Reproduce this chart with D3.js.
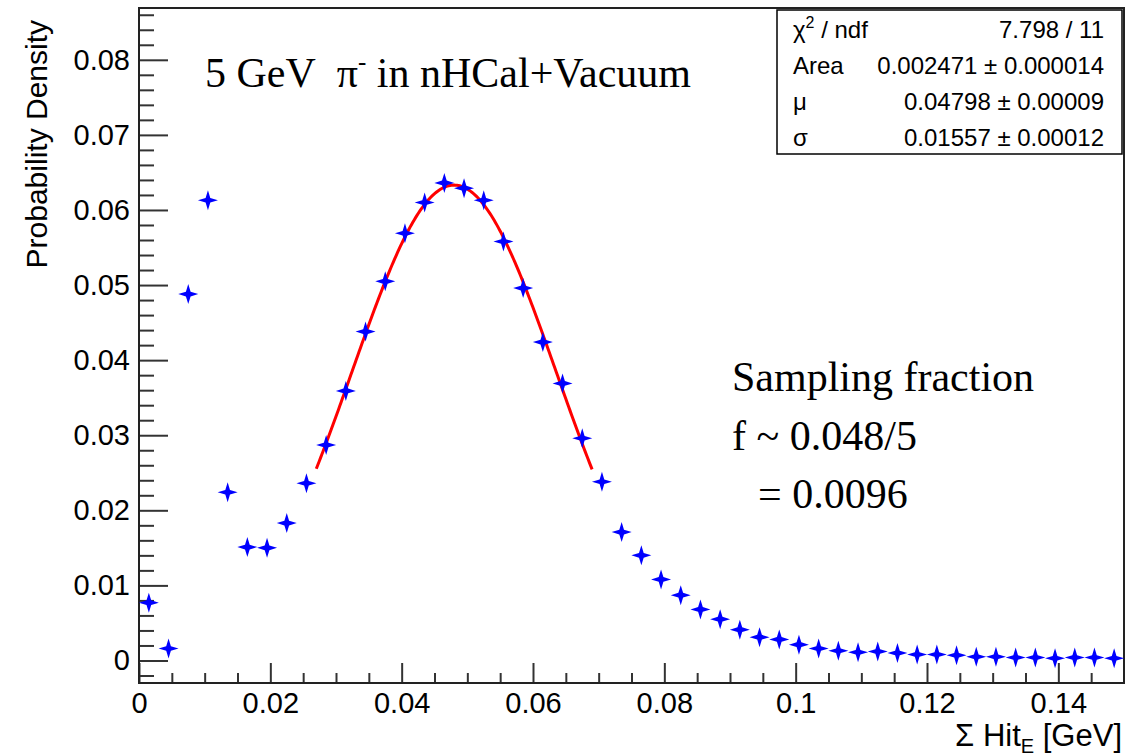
<!DOCTYPE html>
<html>
<head>
<meta charset="utf-8">
<script src="https://cdn.jsdelivr.net/npm/d3@7"></script>
<style>
  body { margin: 0; background: #fff; }
  svg { display: block; }
</style>
</head>
<body>
<div id="chart"></div>
<script>
const width = 1140;
const height = 756;

// histogram: bin centers [GeV] and probability density
const binCenters = [
  0.0015, 0.0045, 0.0075, 0.0105, 0.0135, 0.0165, 0.0195, 0.0225, 0.0255, 0.0285,
  0.0315, 0.0345, 0.0375, 0.0405, 0.0435, 0.0465, 0.0495, 0.0525, 0.0555, 0.0585,
  0.0615, 0.0645, 0.0675, 0.0705, 0.0735, 0.0765, 0.0795, 0.0825, 0.0855, 0.0885,
  0.0915, 0.0945, 0.0975, 0.1005, 0.1035, 0.1065, 0.1095, 0.1125, 0.1155, 0.1185,
  0.1215, 0.1245, 0.1275, 0.1305, 0.1335, 0.1365, 0.1395, 0.1425, 0.1455, 0.1485
];
const density = [
  0.0077, 0.0016, 0.0488, 0.0613, 0.0224, 0.0151, 0.0150, 0.0183, 0.0236, 0.0287,
  0.0359, 0.0438, 0.0505, 0.0569, 0.0610, 0.0636, 0.0629, 0.0613, 0.0558, 0.0496,
  0.0424, 0.0369, 0.0296, 0.0238, 0.0171, 0.0140, 0.0108, 0.0087, 0.0068, 0.0055,
  0.0041, 0.0031, 0.0028, 0.0021, 0.0016, 0.0013, 0.0011, 0.0012, 0.0010, 0.0008,
  0.0008, 0.0007, 0.0005, 0.0005, 0.0004, 0.0004, 0.0003, 0.0004, 0.0004, 0.0003
];

// gausn fit result
const fitArea = 0.002471;
const fitMean = 0.04798;
const fitSigma = 0.01557;
const fitRange = [0.027, 0.069];

const statLabels = ["χ2 / ndf", "Area", "μ", "σ"];
const statValues = ["7.798 / 11", "0.002471 ± 0.000014", "0.04798 ± 0.00009", "0.01557 ± 0.00012"];

const xMajor = [0, 0.02, 0.04, 0.06, 0.08, 0.1, 0.12, 0.14];
const yMajor = [0, 0.01, 0.02, 0.03, 0.04, 0.05, 0.06, 0.07, 0.08];
const xLabels = ["0", "0.02", "0.04", "0.06", "0.08", "0.1", "0.12", "0.14"];
const yLabels = ["0", "0.01", "0.02", "0.03", "0.04", "0.05", "0.06", "0.07", "0.08"];

const frame = { left: 139, right: 1124, top: 8, bottom: 683 };

const svg = d3.select("#chart")
  .append("svg")
  .attr("width", width)
  .attr("height", height);

const x = d3.scaleLinear()
  .domain([0, 0.15])
  .range([frame.left, frame.right]);

const y = d3.scaleLinear()
  .domain([-0.003, 0.0869])
  .range([frame.bottom, frame.top]);

const sans = "'Liberation Sans', Arial, sans-serif";
const serif = "'Liberation Serif', 'Times New Roman', serif";

// minor ticks
const xMinor = d3.range(0.005, 0.1451, 0.005).filter(v => Math.abs(v / 0.02 - Math.round(v / 0.02)) > 1e-6);
const yMinor = d3.range(-0.002, 0.0861, 0.002).filter(v => Math.abs(v / 0.01 - Math.round(v / 0.01)) > 1e-6);

svg.append("g")
  .attr("transform", `translate(0,${frame.bottom})`)
  .call(d3.axisBottom(x).tickValues(xMinor).tickSize(-10).tickFormat(""))
  .call(g => g.select(".domain").remove());

svg.append("g")
  .attr("transform", `translate(${frame.left},0)`)
  .call(d3.axisLeft(y).tickValues(yMinor).tickSize(-15).tickFormat(""))
  .call(g => g.select(".domain").remove());

// major ticks + labels
svg.append("g")
  .attr("transform", `translate(0,${frame.bottom})`)
  .call(d3.axisBottom(x).tickValues(xMajor).tickSize(-20).tickPadding(8)
    .tickFormat((d, i) => xLabels[i]))
  .call(g => g.select(".domain").remove())
  .call(g => g.selectAll("text").attr("dy", "0.75em"));

svg.append("g")
  .attr("transform", `translate(${frame.left},0)`)
  .call(d3.axisLeft(y).tickValues(yMajor).tickSize(-29).tickPadding(9)
    .tickFormat((d, i) => yLabels[i]))
  .call(g => g.select(".domain").remove());

svg.selectAll(".tick line")
  .attr("stroke", "#333")
  .attr("stroke-width", 2);

svg.selectAll(".tick text")
  .attr("fill", "#000")
  .style("font-family", sans)
  .style("font-size", "29px");

// frame
svg.append("rect")
  .attr("x", frame.left)
  .attr("y", frame.top)
  .attr("width", frame.right - frame.left)
  .attr("height", frame.bottom - frame.top)
  .attr("fill", "none")
  .attr("stroke", "#222")
  .attr("stroke-width", 2);

// fit curve
const fitX = d3.range(fitRange[0], fitRange[1] + 1e-9, (fitRange[1] - fitRange[0]) / 200);
const gaus = v => fitArea / (fitSigma * Math.sqrt(2 * Math.PI)) *
  Math.exp(-0.5 * Math.pow((v - fitMean) / fitSigma, 2));

svg.append("path")
  .datum(fitX)
  .attr("fill", "none")
  .attr("stroke", "#ff0000")
  .attr("stroke-width", 3)
  .attr("d", d3.line().x(d => x(d)).y(d => y(gaus(d))));

// four-point star markers
const star = d3.lineRadial()
  .angle((d, i) => i * Math.PI / 4)
  .radius((d, i) => i % 2 === 0 ? 10 : 3.3)
  .curve(d3.curveLinearClosed)(d3.range(8));

svg.append("g")
  .selectAll("path")
  .data(binCenters.map((c, i) => ({ c, v: density[i] })))
  .enter()
  .append("path")
  .attr("d", star)
  .attr("transform", d => `translate(${x(d.c)},${y(d.v)})`)
  .attr("fill", "#0000ff");

// axis titles
svg.append("text")
  .attr("transform", `translate(47,${frame.top + 12}) rotate(-90)`)
  .attr("text-anchor", "end")
  .style("font-family", sans)
  .style("font-size", "30px")
  .text("Probability Density");

const xTitle = svg.append("text")
  .attr("x", frame.right - 2)
  .attr("y", 746)
  .attr("text-anchor", "end")
  .style("font-family", sans)
  .style("font-size", "31px");
xTitle.append("tspan").text("Σ Hit");
xTitle.append("tspan").attr("dy", 7).style("font-size", "20px").text("E");
xTitle.append("tspan").attr("dy", -7).text(" [GeV]");

// title
const title = svg.append("text")
  .attr("x", 205)
  .attr("y", 87)
  .style("font-family", serif)
  .style("font-size", "42px");
title.append("tspan").text("5 GeV\u00a0 π");
title.append("tspan").attr("dy", -17).style("font-size", "25px").text("-");
title.append("tspan").attr("dy", 17).text(" in nHCal+Vacuum");

// sampling fraction note
const note = ["Sampling fraction", "f ~ 0.048/5", "= 0.0096"];
const noteX = [732, 732, 758];
const noteY = [391, 450, 508];
svg.append("g")
  .selectAll("text")
  .data(note)
  .enter()
  .append("text")
  .attr("x", (d, i) => noteX[i])
  .attr("y", (d, i) => noteY[i])
  .style("font-family", serif)
  .style("font-size", "42px")
  .text(d => d);

// stats box
const box = { x: 777, y: 10, w: 345, h: 144 };
svg.append("rect")
  .attr("x", box.x)
  .attr("y", box.y)
  .attr("width", box.w)
  .attr("height", box.h)
  .attr("fill", "#fff")
  .attr("stroke", "#000")
  .attr("stroke-width", 1.5);

const rowH = box.h / statLabels.length;

const labels = svg.append("g")
  .selectAll("text")
  .data(statLabels)
  .enter()
  .append("text")
  .attr("x", box.x + 16)
  .attr("y", (d, i) => box.y + rowH * (i + 0.5) + 10)
  .style("font-family", sans)
  .style("font-size", "24px");

labels.each(function (d) {
  const t = d3.select(this);
  if (d.startsWith("χ2")) {
    t.append("tspan").text("χ");
    t.append("tspan").attr("dy", -10).style("font-size", "16px").text("2");
    t.append("tspan").attr("dy", 10).text(" / ndf");
  } else {
    t.text(d);
  }
});

svg.append("g")
  .selectAll("text")
  .data(statValues)
  .enter()
  .append("text")
  .attr("x", box.x + box.w - 18)
  .attr("y", (d, i) => box.y + rowH * (i + 0.5) + 10)
  .attr("text-anchor", "end")
  .style("font-family", sans)
  .style("font-size", "24px")
  .text(d => d);
</script>
</body>
</html>
